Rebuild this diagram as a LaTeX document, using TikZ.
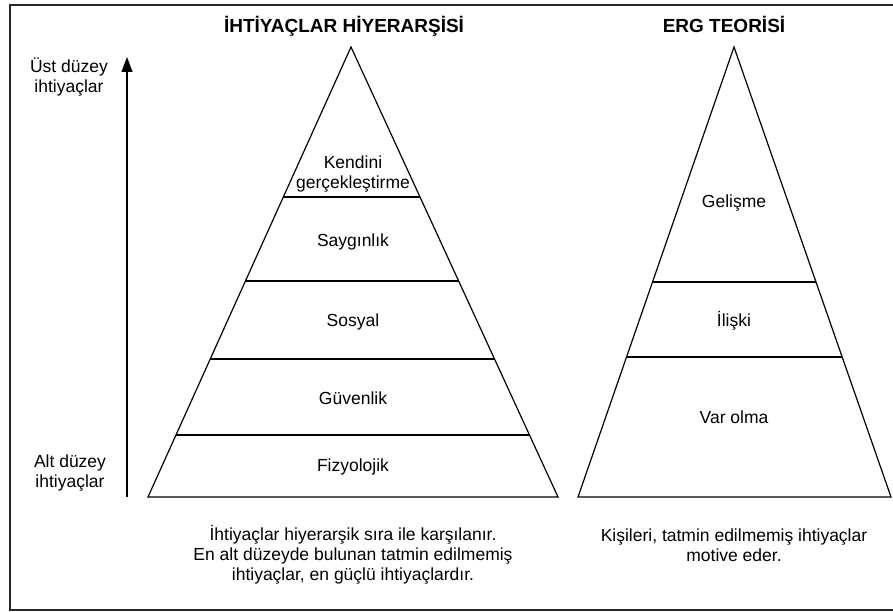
\documentclass[tikz,border=0pt]{standalone}
\usepackage{fontspec}
\setmainfont{Liberation Sans}
\usetikzlibrary{calc,arrows.meta}

\begin{document}
\begin{tikzpicture}[x=1pt, y=-1pt, line width=1.2pt, lbl/.style = {font=\fontsize{17.5}{20}\selectfont, align=center, anchor=base}, head/.style = {font=\fontsize{19}{22}\selectfont\bfseries, anchor=base}]
        \useasboundingbox (0,0) rectangle (893,612);
        \draw[line width=2.2pt, black!85] (893,5) -- (10,5) -- (10,610) -- (893,610);

        % needs hierarchy
        \coordinate (HT) at (351,47);
        \coordinate (HL) at (148,497);
        \coordinate (HR) at (558,497);
        \draw (HT) -- (HL) -- (HR) -- cycle;
        \foreach \t in {0.3333,0.52,0.6933,0.8622}
            \draw ($(HT)!\t!(HL)$) -- ($(HT)!\t!(HR)$);

        % base of a multi-line label = its last line
        \node[head] (Htitle) at (344,33) {İHTİYAÇLAR HİYERARŞİSİ};
        \node[lbl] (Kendini) at (353,189) {Kendini\\gerçekleştirme};
        \node[lbl] (Saygi) at (353,247) {Saygınlık};
        \node[lbl] (Sosyal) at (353,326) {Sosyal};
        \node[lbl] (Guven) at (353,404) {Güvenlik};
        \node[lbl] (Fizyo) at (353,471) {Fizyolojik};
        \node[lbl] (Hnote) at (353,580) {İhtiyaçlar hiyerarşik sıra ile karşılanır.\\En alt düzeyde bulunan tatmin edilmemiş\\ihtiyaçlar, en güçlü ihtiyaçlardır.};

        % level arrow
        \coordinate (Alow) at (127,497);
        \coordinate (Ahigh) at (127,57);
        \draw[-{Triangle[length=15pt,width=11pt]}] (Alow) -- (Ahigh);
        \node[lbl] (Ust) at (69,93) {Üst düzey\\ihtiyaçlar};
        \node[lbl] (Alt) at (70,487) {Alt düzey\\ihtiyaçlar};

        % ERG
        \coordinate (ET) at (734,47);
        \coordinate (EL) at (578,497);
        \coordinate (ER) at (891,497);
        \draw (ET) -- (EL) -- (ER) -- cycle;
        \foreach \t in {0.5222,0.6889}
            \draw ($(ET)!\t!(EL)$) -- ($(ET)!\t!(ER)$);

        \node[head] (Etitle) at (724,33) {ERG TEORİSİ};
        \node[lbl] (Gelisme) at (734,208) {Gelişme};
        \node[lbl] (Iliski) at (734,326) {İlişki};
        \node[lbl] (Varolma) at (734,423) {Var olma};
        \node[lbl] (Enote) at (734,561) {Kişileri, tatmin edilmemiş ihtiyaçlar\\motive eder.};
    \end{tikzpicture}
\end{document}
